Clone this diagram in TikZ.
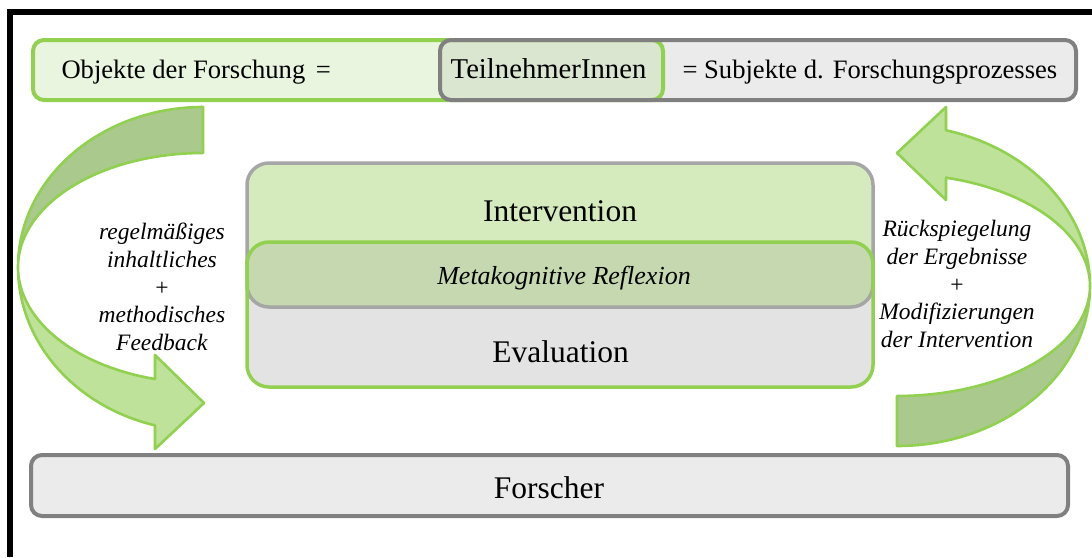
\documentclass[tikz,border=0pt]{standalone}
\usepackage{fontspec}
\setmainfont{Liberation Serif}
\definecolor{grn}{HTML}{92D050}
\definecolor{grnfill}{HTML}{E9F5DE}
\definecolor{gryfill}{HTML}{EBEBEB}
\definecolor{teilfill}{HTML}{DAE6CF}
\definecolor{grystroke}{HTML}{808080}
\definecolor{intfill}{HTML}{D5EBBE}
\definecolor{intstroke}{HTML}{A6A6A6}
\definecolor{metafill}{HTML}{C5D8B0}
\definecolor{evalfill}{HTML}{E3E3E3}
\definecolor{arrdark}{HTML}{A9C98D}
\definecolor{arrlight}{HTML}{BFE29A}
\begin{document}
\begin{tikzpicture}[x=1pt,y=-1pt,
  toptext/.style={font=\fontsize{26.6pt}{32pt}\selectfont},
  teiltext/.style={font=\fontsize{28.7pt}{34pt}\selectfont},
  bigtext/.style={font=\fontsize{31.5pt}{38pt}\selectfont},
  metatext/.style={font=\fontsize{26pt}{31pt}\selectfont\itshape},
  sidetext/.style={align=center, font=\fontsize{23.5pt}{27.8pt}\selectfont},
  arrowpart/.style={draw=grn, line width=2.6pt, line join=round},
  topround/.style={rounded corners=11pt},
  midround/.style={rounded corners=22pt}]
\useasboundingbox (0,0) rectangle (1092,557);
\fill[white] (0,0) rectangle (1092,557);

% outer frame (top and left edges)
\draw[line width=5.6pt] (9.8,557) -- (9.8,12.2) -- (1092,12.2);

% ---- top band: Objekte / TeilnehmerInnen / Subjekte ----
\fill[grnfill, topround] (33,40) rectangle (663,100);
\fill[gryfill, topround] (440,40) rectangle (1076,100);
\begin{scope}
  \clip[topround] (33,40) rectangle (663,100);
  \fill[teilfill, topround] (440,40) rectangle (1076,100);
\end{scope}
\draw[grn, line width=4pt, topround] (33,40) rectangle (663,100);
\draw[grystroke, line width=4pt, topround] (440,40) rectangle (1076,100);

\node[toptext, anchor=base west] (objekte) at (58,78) {Objekte der Forschung\hspace{10.5pt}=};
\node[teiltext, anchor=base] (teil) at (548.5,78) {TeilnehmerInnen};
\node[toptext, anchor=base west] (subjekte) at (679,78) {= Subjekte d. Forschungsprozesses};

% ---- central block: Intervention / Reflexion / Evaluation ----
\fill[intfill, midround] (247,163) rectangle (873,307);
\fill[evalfill, midround] (247,242) rectangle (873,387);
\begin{scope}
  \clip[midround] (247,163) rectangle (873,307);
  \fill[metafill, midround] (247,242) rectangle (873,387);
\end{scope}
\draw[intstroke, line width=3.5pt, midround] (247,163) rectangle (873,307);
\draw[grn, line width=3.5pt, midround] (247,242) rectangle (873,387);

\node[bigtext, anchor=base] (interv) at (560,221) {Intervention};
\node[metatext, anchor=base] (meta) at (564,284) {Metakognitive Reflexion};
\node[bigtext, anchor=base] (eval) at (560.5,362.5) {Evaluation};

% ---- bottom bar ----
\draw[grystroke, fill=gryfill, line width=4pt, topround] (31,455) rectangle (1068,516);
\node[bigtext, anchor=base] (forscher) at (549,498.5) {Forscher};

% ---- left circular arrow (down, towards the central block) ----
\draw[arrowpart, fill=arrdark]
  plot[domain=270:180, samples=60] ({203+185*cos(\x)},{267+160*sin(\x)})
  -- plot[domain=180:270, samples=60] ({203+185*cos(\x)},{267+114*sin(\x)})
  -- cycle;
\draw[arrowpart, fill=arrlight]
  plot[domain=180:105.04, samples=60] ({203+185*cos(\x)},{267+164*sin(\x)})
  -- (155,449) -- (204,403) -- (155,355)
  -- plot[domain=105.04:180, samples=60] ({203+185*cos(\x)},{267+116*sin(\x)})
  -- cycle;

% ---- right circular arrow (up, towards the participants) ----
\draw[arrowpart, fill=arrdark]
  plot[domain=90:0, samples=60] ({897+193*cos(\x)},{286+160*sin(\x)})
  -- plot[domain=0:90, samples=60] ({897+193*cos(\x)},{286+110*sin(\x)})
  -- cycle;
\draw[arrowpart, fill=arrlight]
  plot[domain=0:-75.29, samples=60] ({897+193*cos(\x)},{286+161*sin(\x)})
  -- (946,107) -- (897,153) -- (946,200)
  -- plot[domain=-75.29:0, samples=60] ({897+193*cos(\x)},{286+112*sin(\x)})
  -- cycle;

% ---- arrow captions ----
\node[sidetext] (feedback) at (162,287)
  {\textit{regelmäßiges}\\\textit{inhaltliches}\\+\\\textit{methodisches}\\\textit{Feedback}};
\node[sidetext] (rueck) at (957,284)
  {\textit{Rückspiegelung}\\\textit{der Ergebnisse}\\+\\\textit{Modifizierungen}\\\textit{der Intervention}};
\end{tikzpicture}
\end{document}
